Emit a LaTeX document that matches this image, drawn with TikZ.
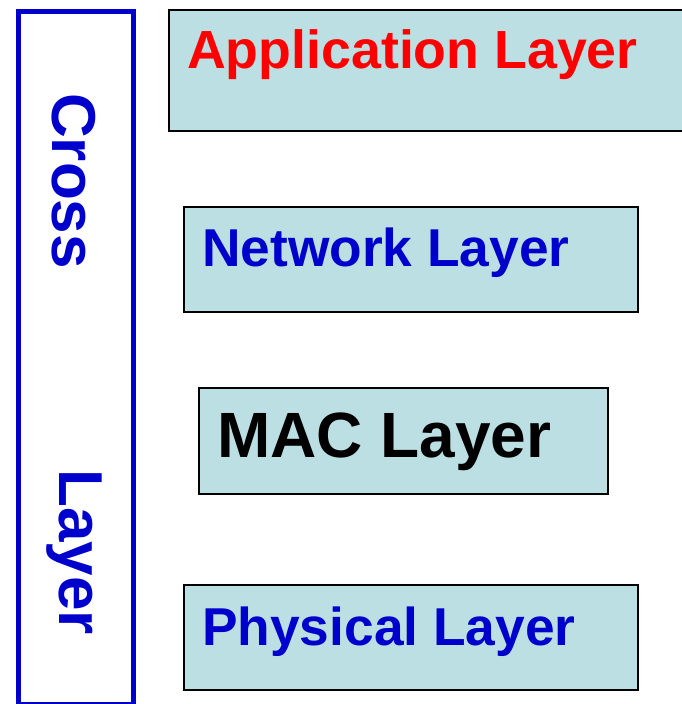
\documentclass[tikz,border=0pt]{standalone}
\usepackage{fontspec}
\setmainfont{Liberation Sans}
\definecolor{layerfill}{HTML}{BBDFE2}
\definecolor{layerblue}{HTML}{0000CC}
\tikzset{
    layerbox/.style={draw=black, line width=1.6pt, fill=layerfill, inner sep=0pt, anchor=north west},
    layertext/.style={anchor=west, inner sep=0pt, font=\bfseries\fontsize{53.3}{60}\selectfont},
}
\begin{document}
\begin{tikzpicture}[x=1pt, y=-1pt]

    \useasboundingbox (0,0) rectangle (682,704);

    % cross layer column
    \node [draw=layerblue, line width=5pt, minimum width=115pt, minimum height=693pt, anchor=north west] (cross) at (16,9) {};
    \node [rotate=-90, text=layerblue, font=\bfseries\fontsize{62}{70}\selectfont, inner sep=0pt] (crosstxt) at (74,181) {Cross};
    \node [rotate=-90, text=layerblue, font=\bfseries\fontsize{62}{70}\selectfont, inner sep=0pt] (layertxt) at (74,552) {Layer};

    % the four layers
    \node [layerbox, minimum width=540pt, minimum height=121pt] (app) at (168,9) {};
    \node [layertext, text=red, font=\bfseries\fontsize{53.7}{60}\selectfont] (apptxt) at (187,55) {Application Layer};

    \node [layerbox, minimum width=454pt, minimum height=105pt] (net) at (183,206) {};
    \node [layertext, text=layerblue] (nettxt) at (202,253) {Network Layer};

    \node [layerbox, minimum width=409pt, minimum height=106pt] (mac) at (198,387) {};
    \node [layertext, text=black, font=\bfseries\fontsize{64}{72}\selectfont] (mactxt) at (217,442) {MAC Layer};

    \node [layerbox, minimum width=454pt, minimum height=105pt] (phy) at (183,584) {};
    \node [layertext, text=layerblue] (phytxt) at (202,632) {Physical Layer};

\end{tikzpicture}
\end{document}
